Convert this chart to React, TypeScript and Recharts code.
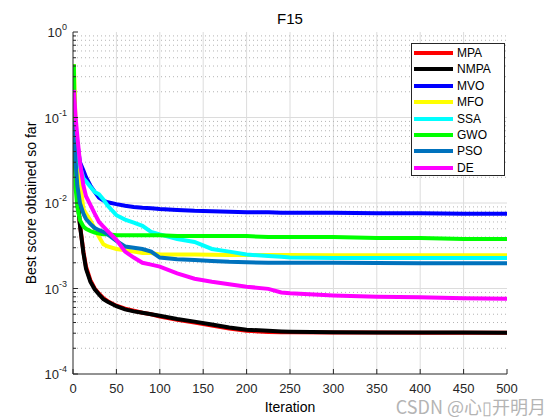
import React from 'react';
import { LineChart, Line, XAxis, YAxis, Legend, ReferenceLine, Customized } from 'recharts';

const iterations = [1, 3, 5, 8, 12, 15, 20, 25, 30, 35, 40, 50, 60, 70, 80, 90, 100, 120, 140, 160, 180, 200, 225, 240, 250, 300, 350, 400, 450, 500];

const mpa = [0.06, 0.022, 0.012, 0.0056, 0.0027, 0.0018, 0.00125, 0.001, 0.00087, 0.00077, 0.00071, 0.00063, 0.00058, 0.00055, 0.00052, 0.0005, 0.00047, 0.00043, 0.0004, 0.00037, 0.00034, 0.00032, 0.00031, 0.000308, 0.000307, 0.000305, 0.000305, 0.000304, 0.000304, 0.000304];
const nmpa = [0.06, 0.022, 0.012, 0.0055, 0.0026, 0.0017, 0.0012, 0.00098, 0.00085, 0.00075, 0.0007, 0.00062, 0.00057, 0.00054, 0.00052, 0.0005, 0.00048, 0.00044, 0.00041, 0.00038, 0.00035, 0.00033, 0.00032, 0.000315, 0.000313, 0.000308, 0.000306, 0.000305, 0.000305, 0.000304];
const mvo = [0.085, 0.06, 0.05, 0.03, 0.024, 0.02, 0.016, 0.0135, 0.0115, 0.0107, 0.0102, 0.0097, 0.0093, 0.009, 0.0088, 0.0087, 0.0085, 0.0083, 0.0081, 0.008, 0.0079, 0.0078, 0.0078, 0.0077, 0.0077, 0.0077, 0.0076, 0.0076, 0.0075, 0.0075];
const mfo = [0.42, 0.08, 0.035, 0.018, 0.0085, 0.0075, 0.0063, 0.005, 0.004, 0.0033, 0.0031, 0.0029, 0.0028, 0.0027, 0.0026, 0.0026, 0.0025, 0.0025, 0.0025, 0.00248, 0.00247, 0.00247, 0.00246, 0.00246, 0.00246, 0.00245, 0.00245, 0.00245, 0.00245, 0.00245];
const ssa = [0.1, 0.05, 0.035, 0.027, 0.0195, 0.018, 0.0155, 0.0135, 0.0126, 0.011, 0.0093, 0.0072, 0.0064, 0.0059, 0.0054, 0.0046, 0.0043, 0.0038, 0.0035, 0.0029, 0.0027, 0.0025, 0.0024, 0.00235, 0.0023, 0.00228, 0.00228, 0.00227, 0.00227, 0.00227];
const gwo = [0.42, 0.015, 0.009, 0.0063, 0.0053, 0.005, 0.0047, 0.0045, 0.0044, 0.0043, 0.0043, 0.0042, 0.0042, 0.0042, 0.0042, 0.0042, 0.0042, 0.0041, 0.0041, 0.0041, 0.0041, 0.0041, 0.004, 0.004, 0.004, 0.004, 0.0039, 0.0039, 0.0038, 0.0038];
const pso = [0.09, 0.03, 0.016, 0.01, 0.0075, 0.0065, 0.0057, 0.0051, 0.0048, 0.0046, 0.0043, 0.0036, 0.0031, 0.003, 0.0029, 0.0027, 0.0023, 0.0022, 0.00215, 0.0021, 0.00205, 0.00203, 0.002, 0.002, 0.002, 0.002, 0.00199, 0.00198, 0.00197, 0.00197];
const de = [0.21, 0.1, 0.06, 0.03, 0.016, 0.012, 0.0095, 0.0075, 0.006, 0.0053, 0.0047, 0.0037, 0.0027, 0.0023, 0.002, 0.0019, 0.0018, 0.0015, 0.0013, 0.0012, 0.00112, 0.00105, 0.00099, 0.0009, 0.00088, 0.00083, 0.0008, 0.00079, 0.00077, 0.00076];

const xTicks = [0, 50, 100, 150, 200, 250, 300, 350, 400, 450, 500];
const yDecades = [0.0001, 0.001, 0.01, 0.1, 1];
const minorSteps = [2, 3, 4, 5, 6, 7, 8, 9];

const series = [
  { key: 'MPA', data: mpa, color: '#ff0000' },
  { key: 'NMPA', data: nmpa, color: '#000000' },
  { key: 'MVO', data: mvo, color: '#0000ff' },
  { key: 'MFO', data: mfo, color: '#ffff00' },
  { key: 'SSA', data: ssa, color: '#00ffff' },
  { key: 'GWO', data: gwo, color: '#00ff00' },
  { key: 'PSO', data: pso, color: '#0072bd' },
  { key: 'DE', data: de, color: '#ff00ff' },
];

const rows = iterations.map((it, i) => {
  const row: any = { iter: it };
  series.forEach((s) => { row[s.key] = s.data[i]; });
  return row;
});

const yMinor: number[] = [];
yDecades.slice(0, -1).forEach((d) => minorSteps.forEach((m) => yMinor.push(m * d)));
const yAllTicks = [...yDecades, ...yMinor].sort((a, b) => a - b);

const AX = '#262626';
const FONT = '"Liberation Sans", Arial, Helvetica, sans-serif';

const isMajor = (v: number) => Math.abs(Math.log10(v) - Math.round(Math.log10(v))) < 1e-6;

const BottomTick = (props: any) => {
  const { x, y, payload } = props;
  return (
    <g>
      <line x1={x} y1={y} x2={x} y2={y - 5} stroke={AX} />
      <text x={x} y={y + 19} textAnchor="middle" fontSize={13} fill={AX} fontFamily={FONT}>{payload.value}</text>
    </g>
  );
};

const TopTick = (props: any) => {
  const { x, y } = props;
  return <line x1={x} y1={y} x2={x} y2={y + 5} stroke={AX} />;
};

const LeftTick = (props: any) => {
  const { x, y, payload } = props;
  const major = isMajor(payload.value);
  return (
    <g>
      <line x1={x} y1={y} x2={x + (major ? 5 : 3)} y2={y} stroke={AX} />
      {major && (
        <text x={x - 6} y={y + 5} textAnchor="end" fontSize={13} fill={AX} fontFamily={FONT}>
          10<tspan dy={-7} fontSize={9}>{Math.round(Math.log10(payload.value))}</tspan>
        </text>
      )}
    </g>
  );
};

const RightTick = (props: any) => {
  const { x, y, payload } = props;
  const major = isMajor(payload.value);
  return <line x1={x} y1={y} x2={x - (major ? 5 : 3)} y2={y} stroke={AX} />;
};

const renderLegend = () => (
  <div style={{ position: 'relative', width: 94, height: 133, boxSizing: 'border-box', border: `1px solid ${AX}`, background: '#fff', fontFamily: FONT }}>
    {series.map((s, i) => (
      <div key={s.key} style={{ position: 'absolute', left: 0, top: 9 + i * 16.4 - 8, height: 16, width: 92 }}>
        <div style={{ position: 'absolute', left: 2, top: 6, width: 39, height: 4, background: s.color }} />
        <span style={{ position: 'absolute', left: 45, top: 0, fontSize: 12, lineHeight: '16px', color: '#000' }}>{s.key}</span>
      </div>
    ))}
  </div>
);

const Texts = () => (
  <g fontFamily={FONT}>
    <text x={290} y={24} textAnchor="middle" fontSize={15} fill="#000">F15</text>
    <text x={290} y={412} textAnchor="middle" fontSize={14} fill="#000">Iteration</text>
    <text x={36} y={203} textAnchor="middle" fontSize={14} fill="#000" transform="rotate(-90 36 203)">Best score obtained so far</text>
    <text x={546} y={414} textAnchor="end" fontSize={18} fill="#b4b4b4" fontFamily={'"Noto Sans CJK SC", "Liberation Sans", sans-serif'}>CSDN @心▯开明月</text>
  </g>
);

export default function App() {
  return (
    <div style={{ position: 'absolute', left: 0, top: 0, width: 560, height: 420, background: '#fff' }}>
      <LineChart width={560} height={420} data={rows} margin={{ top: 32, right: 53, bottom: 0, left: 0 }}>
        {xTicks.slice(1, -1).map((t) => (
          <ReferenceLine key={'gx' + t} x={t} stroke="#dcdcdc" strokeWidth={1} />
        ))}
        {yMinor.map((v) => (
          <ReferenceLine key={'gm' + v} y={v} stroke="#b4b4b4" strokeDasharray="1 3" strokeWidth={1} />
        ))}
        {yDecades.slice(1, -1).map((v) => (
          <ReferenceLine key={'gy' + v} y={v} stroke="#dcdcdc" strokeWidth={1} />
        ))}
        <XAxis dataKey="iter" type="number" domain={[0, 500]} ticks={xTicks} allowDataOverflow
          height={46} tickSize={0} tickMargin={0} tick={BottomTick} axisLine={{ stroke: AX }} interval={0} />
        <XAxis xAxisId="top" orientation="top" dataKey="iter" type="number" domain={[0, 500]} ticks={xTicks} allowDataOverflow
          height={0} tickSize={0} tickMargin={0} tick={TopTick} axisLine={{ stroke: AX }} interval={0} />
        <YAxis scale="log" type="number" domain={[0.0001, 1]} ticks={yAllTicks} allowDataOverflow
          width={73} tickSize={0} tickMargin={0} tick={LeftTick} axisLine={{ stroke: AX }} interval={0} />
        <YAxis yAxisId="right" orientation="right" scale="log" type="number" domain={[0.0001, 1]} ticks={yAllTicks} allowDataOverflow
          width={0} tickSize={0} tickMargin={0} tick={RightTick} axisLine={{ stroke: AX }} interval={0} />
        {series.map((s) => (
          <Line key={s.key} dataKey={s.key} stroke={s.color} strokeWidth={4} dot={false} type="linear" isAnimationActive={false} />
        ))}
        <Legend layout="vertical" align="center" verticalAlign="middle" content={renderLegend}
          wrapperStyle={{ left: 411, top: 43, width: 94, height: 133 }} />
        <Customized component={Texts} />
      </LineChart>
    </div>
  );
}
